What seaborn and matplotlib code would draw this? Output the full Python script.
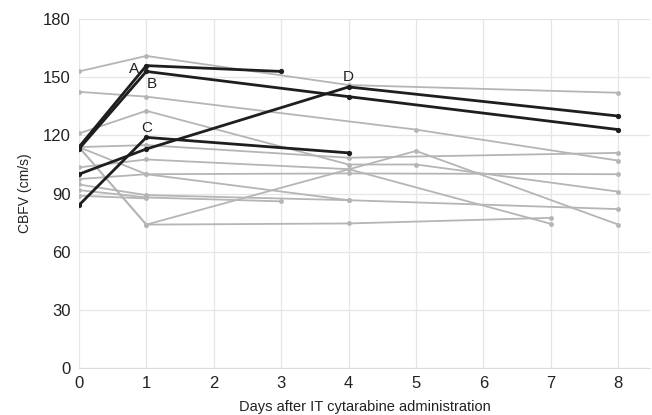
import pandas as pd
import matplotlib.pyplot as plt
import seaborn as sns

# ---------------------------------------
# CBFV per patient (days after IT cytarabine)
# ---------------------------------------
# gray patients
p1_days, p1_cbfv = [0, 1, 4, 8], [153, 161, 146, 142]
p2_days, p2_cbfv = [0, 1, 5, 8], [142.5, 140, 123, 107]
p3_days, p3_cbfv = [0, 1, 4, 5, 8], [121, 132.7, 105, 105, 91]
p4_days, p4_cbfv = [0, 1, 4, 8], [114, 115, 108.5, 111]
p5_days, p5_cbfv = [0, 1, 4, 7], [103.5, 107.6, 102.6, 74.4]
p6_days, p6_cbfv = [0, 1, 4, 8], [114, 100, 100.4, 100]
p7_days, p7_cbfv = [0, 1, 4], [97.5, 100, 86.6]
p8_days, p8_cbfv = [0, 1, 4, 8], [94.7, 89.2, 86.6, 82]
p9_days, p9_cbfv = [0, 1, 3], [91.8, 88, 86]
p10_days, p10_cbfv = [0, 1], [88.9, 87.5]
p11_days, p11_cbfv = [0, 1, 5, 8], [114, 74, 112, 74]
p12_days, p12_cbfv = [0, 1, 4, 7], [114, 74, 74.6, 77.5]

# highlighted patients A-D
a_days, a_cbfv = [0, 1, 3], [114, 156, 153]
b_days, b_cbfv = [0, 1, 4, 8], [113, 153, 140, 123]
c_days, c_cbfv = [0, 1, 4], [84, 119, 111]
d_days, d_cbfv = [0, 1, 4, 8], [100, 113, 145, 130]

gray = [(p1_days, p1_cbfv), (p2_days, p2_cbfv), (p3_days, p3_cbfv),
        (p4_days, p4_cbfv), (p5_days, p5_cbfv), (p6_days, p6_cbfv),
        (p7_days, p7_cbfv), (p8_days, p8_cbfv), (p9_days, p9_cbfv),
        (p10_days, p10_cbfv), (p11_days, p11_cbfv), (p12_days, p12_cbfv)]
black = {"A": (a_days, a_cbfv), "B": (b_days, b_cbfv),
         "C": (c_days, c_cbfv), "D": (d_days, d_cbfv)}

rows = []
for i, (d, v) in enumerate(gray):
    for x, y in zip(d, v):
        rows.append({"patient": f"P{i+1}", "day": x, "cbfv": y})
gray_df = pd.DataFrame(rows)

rows = []
for name, (d, v) in black.items():
    for x, y in zip(d, v):
        rows.append({"patient": name, "day": x, "cbfv": y})
black_df = pd.DataFrame(rows)

# ---------------------------------------
# Plot
# ---------------------------------------
sns.set_style("white")
plt.rcParams['font.family'] = ['Liberation Sans', 'DejaVu Sans']

fig = plt.figure(figsize=(6.52, 4.15), dpi=100)
ax = fig.add_axes([0.121, 0.113, 0.876, 0.841])

sns.lineplot(data=gray_df, x="day", y="cbfv", units="patient", estimator=None,
             color="#b5b5b5", linewidth=1.3, marker="o", markersize=3.5,
             markeredgewidth=0, sort=False, ax=ax)
sns.lineplot(data=black_df, x="day", y="cbfv", units="patient", estimator=None,
             color="#1e1e1e", linewidth=2.0, marker="o", markersize=3.8,
             markeredgewidth=0, sort=False, ax=ax)

# letter labels for highlighted patients
label_pts = {"A": (1, 156, -12, -3), "B": (1, 153, 5, -13),
             "C": (1, 119, 0, 9), "D": (4, 145, 0, 10)}
for name, (x, y, dx, dy) in label_pts.items():
    ax.annotate(name, (x, y), xytext=(dx, dy), textcoords="offset pixels",
                ha="center", va="center", fontsize=11, color="#222222")

ax.set_xlim(0, 8.47)
ax.set_ylim(0, 180)
ax.set_xticks(range(0, 9))
ax.set_yticks(range(0, 181, 30))
ax.grid(True, color="#e6e6e6", linewidth=0.9)
ax.set_axisbelow(True)
for s in ["top", "right", "left"]:
    ax.spines[s].set_visible(False)
ax.spines["bottom"].set_color("#dddddd")
ax.tick_params(axis="both", length=0, labelsize=12, colors="#222222", pad=6)
ax.set_xlabel("Days after IT cytarabine administration", fontsize=10.5, color="#222222", labelpad=6.5)
ax.set_ylabel("CBFV (cm/s)", fontsize=10, color="#222222", labelpad=8)

fig.savefig("out.png", dpi=100)
